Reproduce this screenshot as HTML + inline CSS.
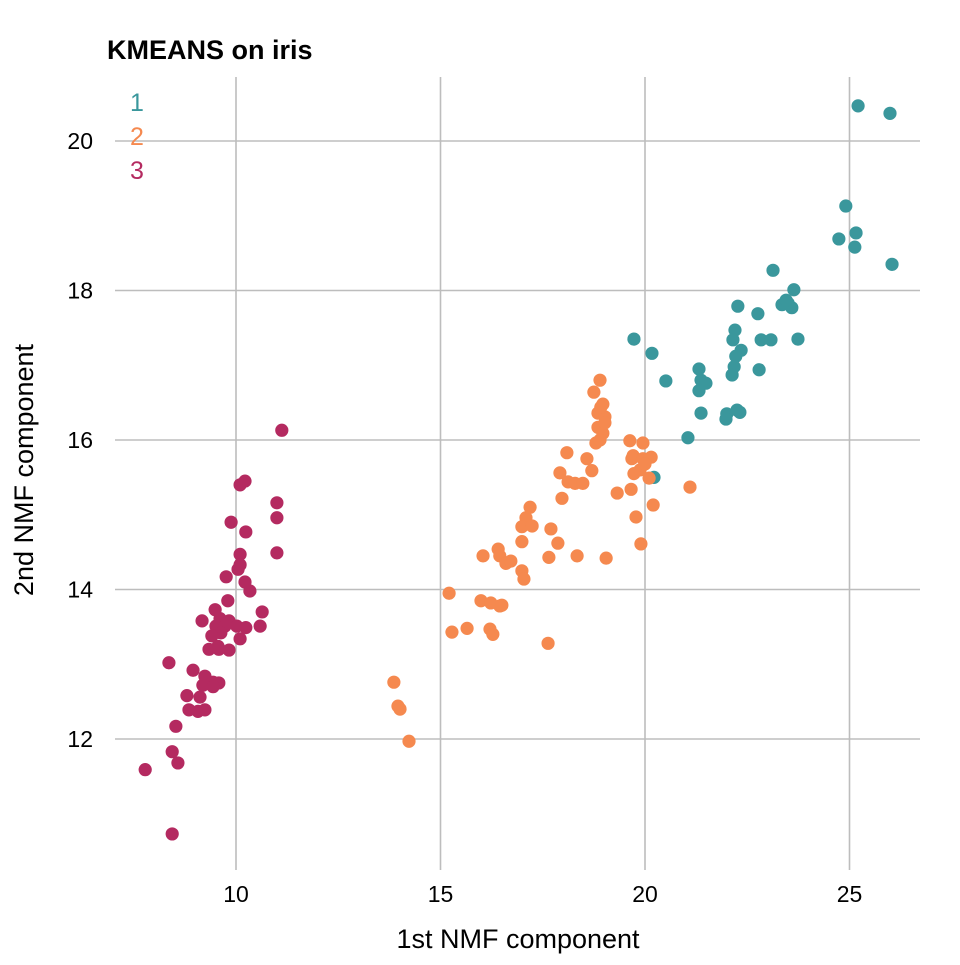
<!DOCTYPE html>
<html><head><meta charset="utf-8"><style>
body{margin:0;background:#fff}
svg text{font-family:"Liberation Sans",sans-serif}
</style></head><body>
<svg id="chart" width="960" height="960" viewBox="0 0 960 960" xmlns="http://www.w3.org/2000/svg">
<text x="107" y="59" font-size="27" font-weight="bold" fill="#000">KMEANS on iris</text>
<g id="grid"></g>
<g id="points"></g>
<g id="axes"></g>
<text x="518" y="948" font-size="27" text-anchor="middle" fill="#000">1st NMF component</text>
<text transform="translate(33,470) rotate(-90)" font-size="27" text-anchor="middle" fill="#000">2nd NMF component</text>
<g>
<text x="137" y="111" font-size="25" text-anchor="middle" fill="#3a979c">1</text>
<text x="137" y="145" font-size="25" text-anchor="middle" fill="#f5894f">2</text>
<text x="137" y="179" font-size="25" text-anchor="middle" fill="#b42a60">3</text>
</g>
</svg>
<script>
const xTicks=[10,15,20,25];
const yTicks=[12,14,16,18,20];
const clusterColors=["#3a979c","#f5894f","#b42a60"];
const c1x=[25.21,25.99,24.91,25.16,24.74,25.13,26.04,23.13,23.64,23.50,23.35,23.59,22.76,22.27,22.20,22.15,22.35,22.84,23.08,23.74,20.17,19.73,21.32,21.37,21.49,21.32,21.37,22.22,22.18,22.13,22.32,22.00,21.98,21.05,20.22,20.51,22.79,23.45,22.25];
const c1y=[20.47,20.37,19.13,18.77,18.69,18.58,18.35,18.27,18.01,17.83,17.81,17.77,17.69,17.79,17.47,17.34,17.20,17.34,17.34,17.35,17.16,17.35,16.95,16.80,16.76,16.66,16.36,17.12,16.98,16.87,16.37,16.35,16.28,16.03,15.50,16.79,16.94,17.87,16.40];
const c2x=[13.86,13.96,14.01,14.23,15.21,15.28,15.65,16.21,16.28,15.99,16.04,16.41,16.45,16.60,16.45,16.23,16.50,16.72,16.99,17.09,17.19,16.99,17.24,16.99,17.04,17.63,17.70,17.87,17.97,17.92,18.12,18.09,18.29,18.48,17.65,18.34,18.58,18.70,18.80,18.97,18.85,19.02,18.85,18.97,18.75,19.02,18.90,18.92,19.32,19.66,19.68,19.63,19.71,19.95,19.95,19.88,20.15,20.10,20.20,20.00,19.73,19.78,19.90,19.05,21.10,18.90];
const c2y=[12.76,12.44,12.40,11.97,13.95,13.43,13.48,13.47,13.40,13.85,14.45,14.54,14.45,14.35,13.78,13.82,13.79,14.38,14.25,14.96,15.10,14.84,14.85,14.64,14.14,13.28,14.81,14.62,15.22,15.56,15.44,15.83,15.42,15.42,14.43,14.45,15.75,15.59,15.96,16.48,16.36,16.31,16.17,16.09,16.64,16.23,16.00,16.44,15.29,15.34,15.75,15.99,15.79,15.96,15.75,15.60,15.77,15.49,15.13,15.68,15.55,14.97,14.61,14.42,15.37,16.80];
const c3x=[11.12,10.22,10.10,11.00,11.00,10.24,9.88,11.00,10.10,10.10,10.05,10.22,10.34,9.76,10.64,9.80,9.49,9.61,9.83,9.17,10.24,9.51,9.73,10.02,10.59,9.63,9.41,9.56,10.10,9.34,9.58,9.83,8.36,8.95,9.24,9.44,9.58,9.19,9.44,8.80,9.12,8.85,9.07,9.24,8.53,8.44,8.58,7.78,8.44];
const c3y=[16.13,15.45,15.40,15.16,14.96,14.77,14.90,14.49,14.47,14.33,14.27,14.10,13.98,14.17,13.70,13.85,13.73,13.61,13.58,13.58,13.49,13.51,13.51,13.51,13.51,13.42,13.38,13.24,13.34,13.20,13.20,13.19,13.02,12.92,12.84,12.76,12.75,12.72,12.70,12.58,12.56,12.39,12.37,12.39,12.17,11.83,11.68,11.59,10.73];
const NS="http://www.w3.org/2000/svg";
const X=v=>236+(v-10)*40.9;
const Y=v=>141+(20-v)*74.75;
const grid=document.getElementById('grid'),axes=document.getElementById('axes'),pts=document.getElementById('points');
function mk(tag,attrs,parent){const e=document.createElementNS(NS,tag);for(const k in attrs)e.setAttribute(k,attrs[k]);parent.appendChild(e);return e;}
xTicks.forEach(t=>{
  const l=mk('line',{x1:X(t),x2:X(t),y1:77,y2:870,stroke:'#bdbdbd','stroke-width':1.6},grid);
  
  
  const tx=mk('text',{x:X(t),y:902,'font-size':23,'text-anchor':'middle',fill:'#000'},axes);
  tx.textContent=t;
  
  
});
yTicks.forEach(t=>{
  const l=mk('line',{x1:115,x2:920,y1:Y(t),y2:Y(t),stroke:'#bdbdbd','stroke-width':1.6},grid);
  
  
  const tx=mk('text',{x:93,y:Y(t)+8,'font-size':23,'text-anchor':'end',fill:'#000'},axes);
  tx.textContent=t;
  
  
});
[[c1x,c1y],[c2x,c2y],[c3x,c3y]].forEach((s,i)=>{
  s[0].forEach((xv,j)=>{
    const c=mk('circle',{cx:X(xv),cy:Y(s[1][j]),r:6.6,fill:clusterColors[i]},pts);
    
    
  });
});
</script>
</body></html>
